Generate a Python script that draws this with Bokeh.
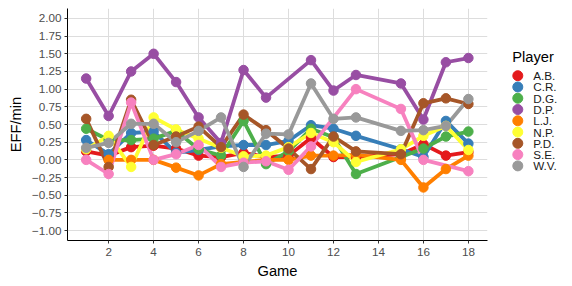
from bokeh.plotting import figure
from bokeh.layouts import row
from bokeh.models import Range1d, FixedTicker, CustomJSTickFormatter, ColumnDataSource
from bokeh.core.properties import value
from bokeh.embed import file_html
from bokeh.resources import INLINE

# ---- data ----
games = [1, 2, 3, 4, 5, 6, 7, 8, 9, 10, 11, 12, 13, 15, 16, 17, 18]
players = ["A.B.", "C.R.", "D.G.", "D.P.", "L.J.", "N.P.", "P.D.", "S.E.", "W.V."]
ab = [0.12, 0.06, 0.18, 0.20, 0.16, 0.06, 0.04, 0.10, 0.04, 0.06, 0.31, 0.04, 0.04, 0.08, 0.22, 0.06, 0.11]
cr = [0.28, 0.08, 0.38, 0.40, 0.10, 0.14, 0.19, 0.21, 0.21, 0.27, 0.49, 0.44, 0.34, 0.15, 0.04, 0.55, 0.23]
dg = [0.44, 0.28, 0.28, 0.30, 0.41, 0.15, 0.06, 0.55, -0.06, 0.12, 0.44, 0.32, -0.20, 0.04, 0.16, 0.33, 0.40]
dp = [1.15, 0.62, 1.25, 1.50, 1.10, 0.60, 0.24, 1.27, 0.88, None, 1.41, 0.98, 1.20, 1.08, 0.57, 1.38, 1.44]
lj = [None, 0.00, 0.00, 0.00, -0.11, -0.22, -0.06, -0.03, 0.00, 0.00, 0.06, 0.06, 0.07, 0.00, -0.39, -0.13, 0.06]
np_ = [0.15, 0.34, -0.10, 0.60, 0.43, 0.30, 0.17, 0.05, 0.06, 0.18, 0.38, 0.25, -0.03, 0.15, 0.34, 0.48, 0.14]
pd_ = [0.58, -0.10, 0.85, 0.21, 0.33, 0.47, 0.18, 0.64, 0.42, 0.16, -0.13, 0.33, 0.12, 0.08, 0.80, 0.87, 0.79]
se = [0.00, -0.20, 0.81, 0.00, 0.08, 0.21, -0.10, -0.04, -0.02, -0.14, 0.19, None, 1.00, 0.72, 0.00, None, -0.16]
wv = [0.17, 0.24, 0.51, 0.51, 0.25, 0.41, 0.60, -0.10, 0.37, 0.36, 1.08, 0.58, 0.60, 0.41, 0.42, 0.48, 0.86]
series = [ab, cr, dg, dp, lj, np_, pd_, se, wv]
colors = ["#E41A1C", "#377EB8", "#4DAF4A", "#984EA3", "#FF7F00", "#FFFF33", "#A65628", "#F781BF", "#999999"]
y_ticks = [-1.0, -0.75, -0.5, -0.25, 0.0, 0.25, 0.5, 0.75, 1.0, 1.25, 1.5, 1.75, 2.0]
x_ticks = [2, 4, 6, 8, 10, 12, 14, 16, 18]

FONT = "Liberation Sans"

p = figure(width=495, height=282, x_range=Range1d(0.17, 18.85), y_range=Range1d(-1.14, 2.14),
           output_backend="svg", toolbar_location=None,
           min_border_left=67, min_border_right=8, min_border_top=8, min_border_bottom=42)
p.outline_line_color = None
p.background_fill_color = "white"
p.border_fill_color = "white"

p.xaxis.ticker = FixedTicker(ticks=x_ticks, minor_ticks=[])
p.yaxis.ticker = FixedTicker(ticks=y_ticks, minor_ticks=[])
p.xgrid.ticker = FixedTicker(ticks=x_ticks, minor_ticks=[])
p.ygrid.ticker = FixedTicker(ticks=y_ticks, minor_ticks=[])
p.grid.grid_line_color = "#dddddd"
p.grid.grid_line_width = 1
p.yaxis.formatter = CustomJSTickFormatter(code="return tick.toFixed(2).replace('-', '\u2212');")

for ax in (p.xaxis[0], p.yaxis[0]):
    ax.axis_line_color = "black"
    ax.axis_line_width = 1
    ax.major_tick_line_color = "#333333"
    ax.major_tick_out = 3
    ax.major_tick_in = 0
    ax.minor_tick_line_color = None
    ax.major_label_text_font = FONT
    ax.major_label_text_font_size = "11.7px"
    ax.major_label_text_color = "#4d4d4d"
    ax.axis_label_text_font = FONT
    ax.axis_label_text_font_size = "14.7px"
    ax.axis_label_text_font_style = "normal"
    ax.axis_label_text_color = "black"

p.xaxis.axis_label = "Game"
p.yaxis.axis_label = "EFF/min"
p.xaxis.major_label_standoff = 4
p.xaxis.axis_label_standoff = 4
p.yaxis.major_label_standoff = 3
p.yaxis.axis_label_standoff = 5

sources = []
for vals in series:
    xs = [g for g, v in zip(games, vals) if v is not None]
    ys = [v for v in vals if v is not None]
    sources.append(ColumnDataSource(dict(x=xs, y=ys)))

for src, c in zip(sources, colors):
    p.line("x", "y", source=src, line_color=c, line_width=3.8, line_join="round", line_cap="round")
for src, c in zip(sources, colors):
    p.scatter("x", "y", source=src, size=9.5, fill_color=c, line_color=c)

# ---- legend panel ----
LW, LH = 69, 282
leg = figure(width=LW, height=LH, x_range=Range1d(0, LW), y_range=Range1d(LH, 0),
             output_backend="svg", toolbar_location=None, x_axis_type=None, y_axis_type=None,
             min_border=0)
leg.outline_line_color = None
leg.grid.visible = False
leg.background_fill_color = "white"
leg.border_fill_color = "white"

title_x, title_y = 16.7, 59.3
dot_x, label_x, row0, row_h = 22.3, 37.7, 81.7, 13.7
rows_y = [row0 + i * row_h for i in range(len(players))]
leg.text(x=[title_x], y=[title_y], text=["Player"], text_font=value(FONT), text_font_size="14.7px",
         text_baseline="middle", text_align="left", text_color="black")
leg.scatter(x=[dot_x] * len(players), y=rows_y, size=10, fill_color=colors, line_color=colors)
leg.text(x=[label_x] * len(players), y=rows_y, text=players, text_font=value(FONT),
         text_font_size="11.7px", text_baseline="middle", text_align="left", text_color="#1a1a1a")

layout = row(p, leg)
open("out.html", "w").write(file_html(layout, INLINE))
